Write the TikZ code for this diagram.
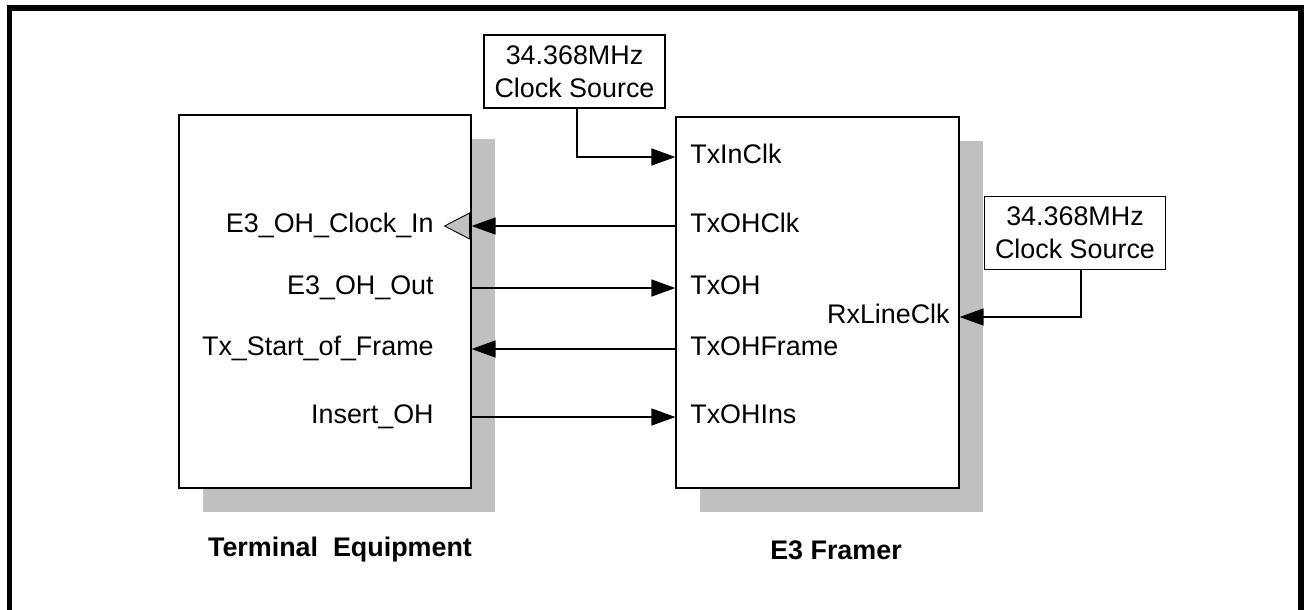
\documentclass[tikz,border=0pt]{standalone}
\usepackage{fontspec}
\setmainfont{Liberation Sans}
\usetikzlibrary{arrows.meta,calc,shadows}
\definecolor{shadegray}{RGB}{192,192,192}

\begin{document}
\begin{tikzpicture}[x=0.02cm,y=-0.02cm,
    every node/.style={font=\fontsize{15.3}{18.8}\selectfont},
    chip/.style={draw,line width=0.7pt,fill=white,inner sep=0pt,
      drop shadow={shadow xshift=0.48cm,shadow yshift=-0.48cm,fill=shadegray,opacity=1}},
    clkbox/.style={draw,line width=0.9pt,fill=white,align=center,inner sep=0pt,
      minimum width=3.62cm,minimum height=1.46cm},
    pinl/.style={anchor=west,inner sep=0pt,text height=0.716em,text depth=0pt},
    pinr/.style={anchor=east,inner sep=0pt,text height=0.716em,text depth=0pt},
    sig/.style={line width=0.9pt,-{Triangle[length=0.48cm,width=0.34cm]}},
    title/.style={font=\fontsize{15.3}{18.8}\selectfont\bfseries}]
	\useasboundingbox (0,0) rectangle (1304,609);
	\clip (0,0) rectangle (1304,609);
    \draw [line width=0.12cm] (9.5,8) rectangle (1301,700);
    % the two devices
    \node[chip,minimum width=5.84cm,minimum height=7.46cm] (te) at (325,301.5) {};
    \node[chip,minimum width=5.66cm,minimum height=7.42cm] (fr) at (817.5,302.5) {};
    \node[title] (tetitle) at (340,550) {Terminal\ \ Equipment};
    \node[title] (frtitle) at (836,550) {E3 Framer};
    % clock sources
    \node[clkbox] (clka) at (574.5,71.5) {34.368MHz\\Clock Source};
    \node[clkbox] (clkb) at (1075,233) {34.368MHz\\Clock Source};
    % framer pins
    \node[pinl] (txinclk) at (690,157) {TxInClk};
    \node[pinl] (txohclk) at (690,226) {TxOHClk};
    \node[pinl] (txoh) at (690,288) {TxOH};
    \node[pinl] (txohframe) at (690,349) {TxOHFrame};
    \node[pinl] (txohins) at (690,417) {TxOHIns};
    \node[pinr] (rxlineclk) at (950,317) {RxLineClk};
    % terminal pins
    \node[pinr] (ohclkin) at (434,226) {E3\_OH\_Clock\_In};
    \node[pinr] (ohout) at (434,288) {E3\_OH\_Out};
    \node[pinr] (startframe) at (434,349) {Tx\_Start\_of\_Frame};
    \node[pinr] (insertoh) at (434,417) {Insert\_OH};
    \draw [fill=shadegray,line width=0.5pt] ($(ohclkin -| te.east)+(-2,-13)$) -- ++(-25,13) -- ++(25,13) -- cycle;
    % connections
    \draw [sig] ([xshift=0.05cm]clka.south) |- (txinclk -| fr.west);
    \draw [sig] ([xshift=0.12cm]clkb.south) |- (rxlineclk -| fr.east);
    \draw [sig] (txohclk -| fr.west) -- (ohclkin -| te.east);
    \draw [sig] (ohout -| te.east) -- (txoh -| fr.west);
    \draw [sig] (txohframe -| fr.west) -- (startframe -| te.east);
    \draw [sig] (insertoh -| te.east) -- (txohins -| fr.west);
\end{tikzpicture}
\end{document}
